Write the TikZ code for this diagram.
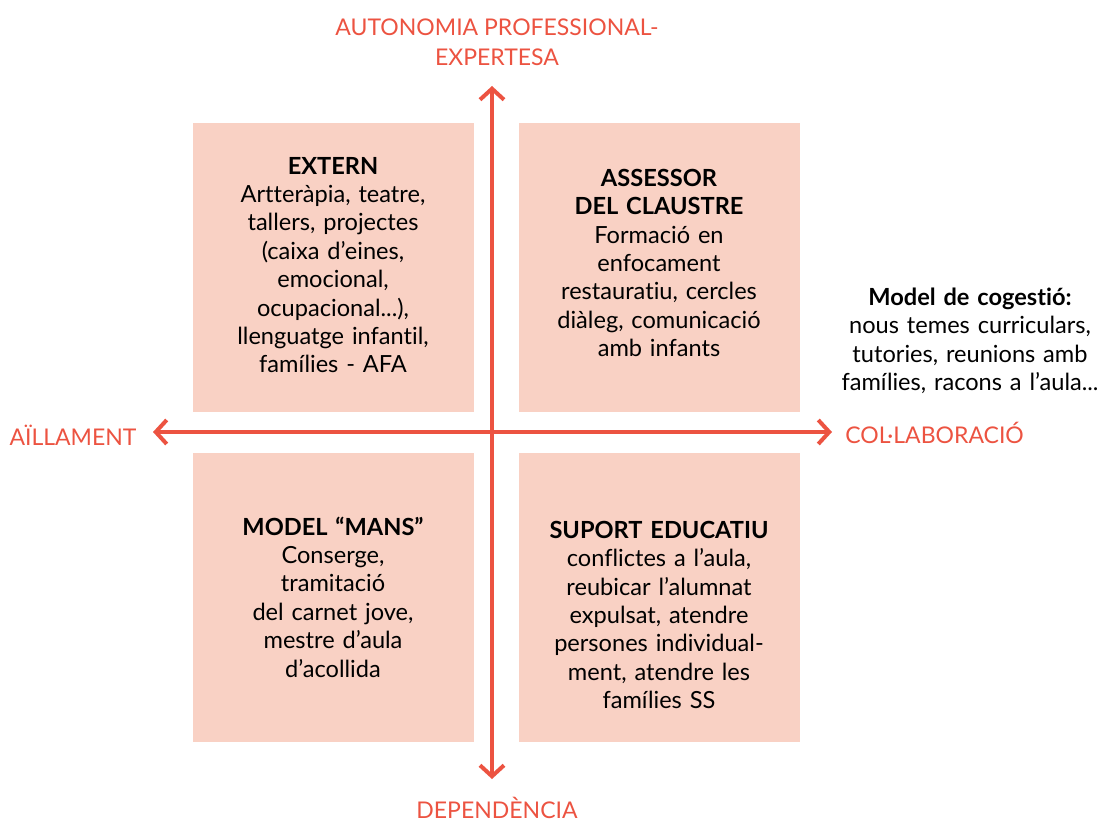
\documentclass[tikz,border=0pt]{standalone}
\usepackage{fontspec}
\setmainfont{Lato}[Ligatures={NoCommon}]
\usepackage{xcolor}
\usetikzlibrary{arrows.meta}
\definecolor{axisred}{HTML}{EC5341}
\definecolor{peach}{HTML}{F9D1C4}

\begin{document}
\begin{tikzpicture}[x=0.5pt,y=-0.5pt,
		quadbox/.style={fill=peach,draw=none},
		quadtext/.style={align=center,text width=135pt,font=\fontsize{11.8}{14.2}\selectfont,inner sep=0pt},
		axislabel/.style={text=axisred,align=center,font=\fontsize{11.5}{15}\selectfont,inner sep=0pt},
		axisline/.style={axisred,line width=2pt,{Straight Barb[length=5.5pt,width=12pt,line width=2pt]}-{Straight Barb[length=5.5pt,width=12pt,line width=2pt]}}]
			\useasboundingbox (0,0) rectangle (1101,823);
			% quadrants
			\foreach \x/\y in {193/123,519/123,193/453,519/453}
			{
				\fill[quadbox] (\x,\y) rectangle (\x+281,\y+289);
			}
			% axes
			\coordinate (top) at (492,86);
			\coordinate (bottom) at (492,779);
			\coordinate (left) at (153,432);
			\coordinate (right) at (832,432);
			\draw[axisline] (bottom) -- (top);
			\draw[axisline] (left) -- (right);

			\node[axislabel] (autonomia) at (497,42) {AUTONOMIA PROFESSIONAL-\\EXPERTESA};
			\node[axislabel] (dependencia) at (497,808) {DEPENDÈNCIA};
			\node[axislabel] (aillament) at (73,435) {AÏLLAMENT};
			\node[axislabel,anchor=west] (collaboracio) at (845,433) {COL·LABORACIÓ};

			\node[quadtext] (extern) at (333,265) {\textbf{EXTERN}\\Artteràpia, teatre,\\tallers, projectes\\(caixa d’eines,\\emocional,\\ocupacional...),\\llenguatge infantil,\\famílies - AFA};
			\node[quadtext] (assessor) at (659,263) {\textbf{ASSESSOR}\\\textbf{DEL CLAUSTRE}\\Formació en\\enfocament\\restauratiu, cercles\\diàleg, comunicació\\amb infants};
			\node[quadtext] (mans) at (333,597) {\textbf{MODEL “MANS”}\\Conserge,\\tramitació\\del carnet jove,\\mestre d’aula\\d’acollida};
			\node[quadtext] (suport) at (659,615) {\textbf{SUPORT EDUCATIU}\\conflictes a l’aula,\\reubicar l’alumnat\\expulsat, atendre\\persones individual-\\ment, atendre les\\famílies SS};
			\node[quadtext] (cogestio) at (970,341) {\textbf{Model de cogestió:}\\nous temes curriculars,\\tutories, reunions amb\\famílies, racons a l’aula...};
\end{tikzpicture}
\end{document}
